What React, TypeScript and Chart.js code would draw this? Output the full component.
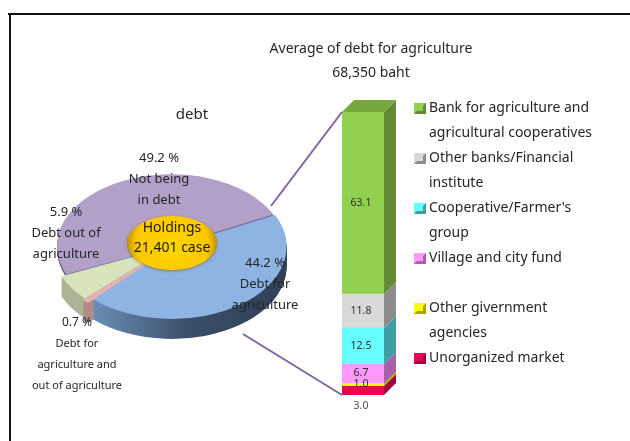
import React, { useEffect, useRef } from "react";
import { Chart, registerables } from "chart.js";

Chart.register(...registerables);

// ---- data ----
const pieCategories = ["Debt for agriculture", "Debt for agriculture and out of agriculture", "Debt out of agriculture", "Not being in debt"];
const pieValues = [44.2, 0.7, 5.9, 49.2];
const pieColors = ["#8db4e3", "#e0b4b0", "#d8e4bc", "#b1a0c7"];
const pieSideColors = ["#40566f", "#b08d88", "#aab595", "#6f6080"];
const pieOffsets = [5, 14, 14, 0];
const pieBorders = [0, 4, 0, 0];

const barCategories = ["Debt for agriculture"];
const barSeries = ["Unorganized market", "Other givernment agencies", "Village and city fund", "Cooperative/Farmer's group", "Other banks/Financial institute", "Bank for agriculture and agricultural cooperatives"];
const barValues = [3.0, 1.0, 6.7, 12.5, 11.8, 63.1];
const barColors = ["#e8005a", "#ffff00", "#ff99ff", "#66ffff", "#d9d9d9", "#92d050"];
const barSideColors = ["#a00040", "#a8a800", "#a860a8", "#3f9fa3", "#8c8c8c", "#648a35"];
const barLabels = ["3.0", "1.0", "6.7", "12.5", "11.8", "63.1"];

const legendLines = [
  { series: 5, lines: ["Bank for agriculture and", "agricultural cooperatives"] },
  { series: 4, lines: ["Other banks/Financial", "institute"] },
  { series: 3, lines: ["Cooperative/Farmer's", "group"] },
  { series: 2, lines: ["Village and city fund", ""] },
  { series: 1, lines: ["Other givernment", "agencies"] },
  { series: 0, lines: ["Unorganized market"] },
];

const titleLines = ["Average of debt for agriculture", "68,350 baht"];
const pieTitle = "debt";
const hubLines = ["Holdings", "21,401 case"];
const pieTextBlocks = [
  { x: 159, y: 158, lines: ["49.2 %", "Not being", "in debt"] },
  { x: 66, y: 212, lines: ["5.9 %", "Debt out of", "agriculture"] },
  { x: 265, y: 263, lines: ["44.2 %", "Debt for", "agriculture"] },
];
const pieSmallBlock = { x: 77, y: 323, lines: ["0.7 %", "Debt for", "agriculture and", "out of agriculture"] };

const FONT = '"Noto Sans", sans-serif';
const TEXT = "#262626";
const SQUASH = 0.63;
const DEPTH = 20;

function textBlock(ctx: CanvasRenderingContext2D, x: number, y: number, lines: string[], font: string, lh: number, color = TEXT) {
  ctx.save();
  ctx.font = font;
  ctx.fillStyle = color;
  ctx.textAlign = "center";
  ctx.textBaseline = "middle";
  lines.forEach((l, i) => ctx.fillText(l, x, y + i * lh));
  ctx.restore();
}

const pie3d = {
  id: "pie3d",
  beforeDatasetsDraw(chart: any) {
    const ctx = chart.ctx as CanvasRenderingContext2D;
    const meta = chart.getDatasetMeta(0);
    const cx = (chart.chartArea.left + chart.chartArea.right) / 2;
    const cy = (chart.chartArea.top + chart.chartArea.bottom) / 2;
    const grad = ctx.createLinearGradient(90, 0, 285, 0);
    grad.addColorStop(0, "#6b8fb8");
    grad.addColorStop(0.5, "#3a4f68");
    grad.addColorStop(1, "#2f4058");
    // side walls: every slice repainted downwards through the same arc element
    for (let d = DEPTH; d > 0; d -= 1) {
      ctx.save();
      ctx.translate(cx, cy + d);
      ctx.scale(1, SQUASH);
      ctx.translate(-cx, -cy);
      [3, 2, 1, 0].forEach((i) => {
        if (i === 3 && d > 3) return;
        const arc = meta.data[i];
        const saved = arc.options;
        arc.options = {
          ...saved,
          backgroundColor: i === 0 ? grad : pieSideColors[i],
          borderColor: pieSideColors[i],
        };
        arc.draw(ctx);
        arc.options = saved;
      });
      ctx.restore();
    }
    ctx.save();
    ctx.translate(cx, cy);
    ctx.scale(1, SQUASH);
    ctx.translate(-cx, -cy);
  },
  afterDatasetsDraw(chart: any) {
    const ctx = chart.ctx as CanvasRenderingContext2D;
    ctx.restore();
    const cx = (chart.chartArea.left + chart.chartArea.right) / 2 + 1;
    const cy = (chart.chartArea.top + chart.chartArea.bottom) / 2 - 3;

    // hub
    ctx.save();
    ctx.shadowColor = "rgba(120,80,0,0.55)";
    ctx.shadowBlur = 3;
    ctx.shadowOffsetY = 1;
    const g = ctx.createRadialGradient(cx, cy + 6, 6, cx, cy, 46);
    g.addColorStop(0, "#ffd400");
    g.addColorStop(0.75, "#fcc800");
    g.addColorStop(1, "#b98a00");
    ctx.fillStyle = g;
    ctx.beginPath();
    ctx.ellipse(cx, cy, 45, 27, 0, 0, Math.PI * 2);
    ctx.fill();
    ctx.restore();
    textBlock(ctx, cx, cy - 15, hubLines, `14px ${FONT}`, 20, "#1f1a00");

    // texts around the pie
    textBlock(ctx, 192, 115, [pieTitle], `15px ${FONT}`, 21);
    pieTextBlocks.forEach((b) => textBlock(ctx, b.x, b.y, b.lines, `13px ${FONT}`, 21));
    textBlock(ctx, pieSmallBlock.x, pieSmallBlock.y, [pieSmallBlock.lines[0]], `12px ${FONT}`, 21);
    textBlock(ctx, pieSmallBlock.x, pieSmallBlock.y + 21, pieSmallBlock.lines.slice(1), `11px ${FONT}`, 21);
  },
};

const bar3d = {
  id: "bar3d",
  beforeDatasetsDraw(chart: any) {
    const ctx = chart.ctx as CanvasRenderingContext2D;
    const dx = 12;
    const dy = 12;
    chart.data.datasets.forEach((_: any, i: number) => {
      const el = chart.getDatasetMeta(i).data[0];
      const right = el.x + el.width / 2;
      ctx.fillStyle = barSideColors[i];
      ctx.beginPath();
      ctx.moveTo(right, el.y);
      ctx.lineTo(right + dx, el.y - dy);
      ctx.lineTo(right + dx, el.base - dy);
      ctx.lineTo(right, el.base);
      ctx.closePath();
      ctx.fill();
    });
    const topIdx = chart.data.datasets.length - 1;
    const t = chart.getDatasetMeta(topIdx).data[0];
    ctx.fillStyle = "#76a83e";
    ctx.beginPath();
    ctx.moveTo(t.x - t.width / 2, t.y);
    ctx.lineTo(t.x - t.width / 2 + dx, t.y - dy);
    ctx.lineTo(t.x + t.width / 2 + dx, t.y - dy);
    ctx.lineTo(t.x + t.width / 2, t.y);
    ctx.closePath();
    ctx.fill();
  },
  afterDatasetsDraw(chart: any) {
    const ctx = chart.ctx as CanvasRenderingContext2D;
    const n = chart.data.datasets.length;
    const first = chart.getDatasetMeta(0).data[0];
    const last = chart.getDatasetMeta(n - 1).data[0];
    const left = first.x - first.width / 2;

    // connectors from pie to bar
    ctx.save();
    ctx.strokeStyle = "#8064a2";
    ctx.lineWidth = 2;
    ctx.beginPath();
    ctx.moveTo(271, 206);
    ctx.lineTo(left, last.y);
    ctx.moveTo(243, 334);
    ctx.lineTo(left, first.base);
    ctx.stroke();
    ctx.restore();

    // segment labels
    chart.data.datasets.forEach((_: any, i: number) => {
      const el = chart.getDatasetMeta(i).data[0];
      let y = (el.y + el.base) / 2;
      if (i === 0) y = el.base + 11;
      if (i === 1) y = el.y + 1;
      if (i === 2) y -= 1;
      textBlock(ctx, el.x - 2, y, [barLabels[i]], `10.5px ${FONT}`, 12, i === 0 ? "#505050" : "#2f2f2f");
    });

    // legend, fed by the datasets' own colours
    const lh = 25;
    let y = 108;
    legendLines.forEach((entry) => {
      const c = chart.data.datasets[entry.series].backgroundColor;
      const s = barSideColors[entry.series];
      ctx.fillStyle = c;
      ctx.fillRect(414, y - 5, 12, 11);
      ctx.fillStyle = s;
      ctx.beginPath();
      ctx.moveTo(426, y - 5);
      ctx.lineTo(426, y + 6);
      ctx.lineTo(414, y + 6);
      ctx.lineTo(417, y + 3);
      ctx.lineTo(423, y + 3);
      ctx.lineTo(423, y - 2);
      ctx.closePath();
      ctx.fill();
      entry.lines.forEach((l, i) => {
        ctx.save();
        ctx.font = `14px ${FONT}`;
        ctx.fillStyle = TEXT;
        ctx.textBaseline = "middle";
        ctx.fillText(l, 429, y + i * lh);
        ctx.restore();
      });
      y += entry.lines.length * lh;
    });

    textBlock(ctx, 371, 49, titleLines, `14px ${FONT}`, 24);
  },
};

export default function App() {
  const pieRef = useRef<HTMLCanvasElement>(null);
  const barRef = useRef<HTMLCanvasElement>(null);

  useEffect(() => {
    document.body.style.margin = "0";
    const cx = 171;
    const cy = 246;
    const half = 123;
    const pie = new Chart(pieRef.current!, {
      type: "pie",
      data: {
        labels: pieCategories,
        datasets: [{ data: pieValues, backgroundColor: pieColors, borderColor: pieColors, borderWidth: pieBorders, offset: pieOffsets, hoverOffset: 0 } as any],
      },
      options: {
        responsive: false,
        animation: false,
        rotation: 64,
        layout: {
          padding: { left: cx - half, right: 630 - cx - half, top: cy - half, bottom: 441 - cy - half },
        },
        plugins: { legend: { display: false }, tooltip: { enabled: false } },
      } as any,
      plugins: [pie3d as any],
    });

    const bar = new Chart(barRef.current!, {
      type: "bar",
      data: {
        labels: barCategories,
        datasets: barSeries.map((label, i) => ({
          label,
          data: [barValues[i]],
          backgroundColor: barColors[i],
          borderWidth: 0,
          barPercentage: 1,
          categoryPercentage: 1,
        })),
      },
      options: {
        responsive: false,
        animation: false,
        layout: { padding: { left: 342, right: 630 - 384, top: 112, bottom: 441 - 395 } },
        scales: {
          x: { stacked: true, display: false },
          y: { stacked: true, display: false, min: 0, max: 98.1 },
        },
        plugins: { legend: { display: false }, tooltip: { enabled: false } },
      } as any,
      plugins: [bar3d as any],
    });
    return () => {
      pie.destroy();
      bar.destroy();
    };
  }, []);

  const layer: React.CSSProperties = { position: "absolute", left: 0, top: 0 };
  return (
    <div style={{ position: "relative", width: 630, height: 441, background: "#fff", overflow: "hidden" }}>
      <div style={{ position: "absolute", left: 8, top: 13, width: 622, height: 2, background: "#111" }} />
      <div style={{ position: "absolute", left: 9, top: 13, width: 2, height: 428, background: "#111" }} />
      <canvas ref={pieRef} width={630} height={441} style={layer} />
      <canvas ref={barRef} width={630} height={441} style={layer} />
    </div>
  );
}
